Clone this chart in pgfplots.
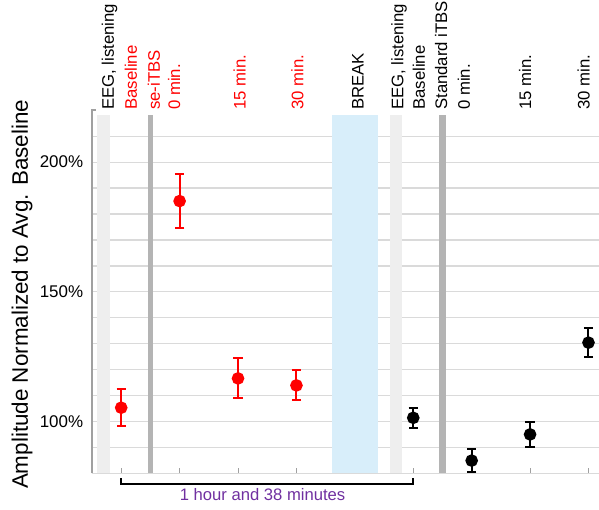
\documentclass[border=0pt]{standalone}
\usepackage{fontspec}
\setmainfont{Liberation Sans}
\usepackage{pgfplots}
\pgfplotsset{compat=1.18}
\definecolor{band}{RGB}{238,238,238}
\definecolor{stim}{RGB}{180,180,180}
\definecolor{brk}{RGB}{216,238,250}
\definecolor{gridc}{RGB}{218,218,218}
\definecolor{purp}{RGB}{112,48,160}
\definecolor{axgray}{RGB}{160,160,160}
\begin{document}
\begin{tikzpicture}
\path[use as bounding box] (-92bp,-36.7bp) rectangle (507bp,473.3bp);
\begin{axis}[
  scale only axis, width=507bp, height=357.8bp,
  xmin=0.5, xmax=9.18, ymin=80, ymax=218,
  axis x line*=bottom, axis y line*=left, axis line style={-},
  x axis line style={draw=gridc, line width=1.5bp},
  y axis line style={draw=axgray, line width=1.2bp},
  xtick={1,2,3,4,5,6,7,8,9}, xticklabels={},
  xtick style={draw=axgray, line width=1bp},
  tick align=inside, major tick length=5bp,
  ytick={90,100,...,210},
  yticklabels={,100\%,,,,,150\%,,,,,200\%,},
  ytick style={draw=none},
  yticklabel style={font=\fontsize{17}{20}\selectfont, inner sep=0pt, xshift=-8.7bp},
  ymajorgrids=true,
  grid style={draw=gridc, line width=1.3bp},
  clip=false,
  ylabel={Amplitude Normalized to Avg. Baseline},
  ylabel style={at={(axis description cs:-0.138,0.5)}, anchor=center, font=\fontsize{22.5}{26}\selectfont},
  every axis plot/.append style={line width=2bp},
]
% bands
\fill[band] (axis cs:0.590,80) rectangle (axis cs:0.805,218);
\fill[stim] (axis cs:1.460,80) rectangle (axis cs:1.547,218);
\fill[brk]  (axis cs:4.607,80) rectangle (axis cs:5.393,218);
\fill[band] (axis cs:5.603,80) rectangle (axis cs:5.803,218);
\fill[stim] (axis cs:6.446,80) rectangle (axis cs:6.556,218);

% red data (se-iTBS session)
\addplot[red, only marks, mark=*, mark size=5.3bp,
  error bars/.cd, y dir=both, y explicit,
  error mark=|,
  error bar style={line width=2bp, red},
  error mark options={mark size=4.7bp, line width=2bp, red}]
  coordinates {
  (1,105.3) +- (0,7.1)
  (2,185.0) +- (0,10.4)
  (3,116.6) +- (0,7.7)
  (4,113.9) +- (0,5.8)
  };
% black data (standard iTBS session)
\addplot[black, only marks, mark=*, mark size=5.3bp,
  error bars/.cd, y dir=both, y explicit,
  error mark=|,
  error bar style={line width=2bp, black},
  error mark options={mark size=4.7bp, line width=2bp, black}]
  coordinates {
  (6,101.4) +- (0,3.9)
  (7,84.9) +- (0,4.3)
  (8,95.0) +- (0,4.8)
  (9,130.4) +- (0,5.45)
  };

% top labels
\tikzset{toplab/.style={rotate=90, anchor=base west, inner sep=0pt, font=\fontsize{16.8}{20}\selectfont}}
\node[toplab] at ([yshift=5.5bp]axis cs:0.874,218) {EEG, listening};
\node[toplab, red] at ([yshift=5.5bp]axis cs:1.27,218) {Baseline};
\node[toplab, red] at ([yshift=5.5bp]axis cs:1.66,218) {se-iTBS};
\node[toplab, red] at ([yshift=5.5bp]axis cs:2.01,218) {0 min.};
\node[toplab, red] at ([yshift=5.5bp]axis cs:3.13,218) {15 min.};
\node[toplab, red] at ([yshift=5.5bp]axis cs:4.12,218) {30 min.};
\node[toplab] at ([yshift=5.5bp]axis cs:5.15,218) {BREAK};
\node[toplab] at ([yshift=5.5bp]axis cs:5.83,218) {EEG, listening};
\node[toplab] at ([yshift=5.5bp]axis cs:6.20,218) {Baseline};
\node[toplab] at ([yshift=5.5bp]axis cs:6.58,218) {Standard iTBS};
\node[toplab] at ([yshift=5.5bp]axis cs:6.97,218) {0 min.};
\node[toplab] at ([yshift=5.5bp]axis cs:8.02,218) {15 min.};
\node[toplab] at ([yshift=5.5bp]axis cs:9.02,218) {30 min.};

% small mark at top of y axis
\draw[axgray, line width=1.2bp] (axis cs:0.5,218) -- ([yshift=5.5bp]axis cs:0.5,218) -- ([yshift=5.5bp,xshift=4bp]axis cs:0.5,218);

% bracket
\draw[black, line width=2bp] ([yshift=-5bp]axis cs:1,80) -- ([yshift=-10.7bp]axis cs:1,80) -- ([yshift=-10.7bp]axis cs:6,80) -- ([yshift=-5bp]axis cs:6,80);
\node[purp, font=\fontsize{16.7}{20}\selectfont] at ([yshift=-21.7bp]axis cs:3.42,80) {1 hour and 38 minutes};
\end{axis}
\end{tikzpicture}
\end{document}
